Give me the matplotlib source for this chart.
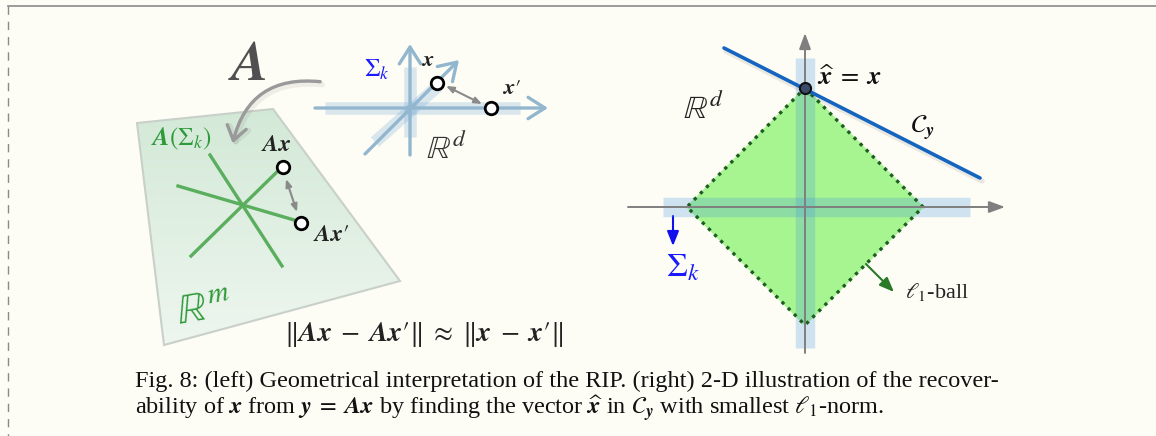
import matplotlib.pyplot as plt
from matplotlib.patches import Polygon, FancyArrowPatch
from matplotlib.colors import LinearSegmentedColormap
import numpy as np

plt.rcParams['font.family'] = ['Liberation Serif', 'DejaVu Serif']
plt.rcParams['mathtext.fontset'] = 'stix'

# Figure in pixel coordinates (y grows downward)
W, H = 1156, 436
bg = '#fdfdf6'

# ---- left diagram: plane R^m ----
plane_x = [137, 273, 400, 164]
plane_y = [123, 109, 281, 345]
# three subspace lines in A(Sigma_k)
lines_m = [((210, 155), (282, 266)),
           ((178, 186), (301, 222)),
           ((191, 256), (283, 166))]
pts_m = [(283, 167), (301, 223)]          # Ax, Ax'

# ---- left diagram: R^d axes ----
axes_d = [((315, 108), (548, 108)),
          ((410, 155), (410, 44)),
          ((365, 154), (459, 60))]
bands_d = [((325, 108), (520, 108)),
           ((410, 67), (410, 137)),
           ((375, 142), (438, 86))]
pts_d = [(437, 83), (491, 108)]           # x, x'

# ---- right diagram ----
origin_r = (805, 207)
ball_x = [805, 923, 805, 687, 805]
ball_y = [88, 207, 325, 207, 88]
haxis_r = (628, 1005)
vaxis_r = (353, 33)
hband_r = (663, 970)
vband_r = (58, 348)
cy_line_x = [724, 980]
cy_line_y = [48, 178]
xhat = (805, 88)

P = '\u2032'  # prime
caption1 = 'Fig. 8: (left) Geometrical interpretation of the RIP. (right) 2-D illustration of the recover-'
caption2 = (r'ability of $\mathbfit{x}$ from $\mathbfit{y}\;=\;\mathbfit{A}\mathbfit{x}$ by finding the vector '
            r'$\widehat{\mathbfit{x}}$ in $\mathcal{C}_{\mathbfit{y}}$ with smallest $\ell_1$-norm.')

fig = plt.figure(figsize=(W / 100, H / 100), dpi=100)
fig.patch.set_facecolor(bg)
ax = fig.add_axes([0, 0, 1, 1])
ax.axis('off')

# frame: top line + dashed left line
ax.plot([8, W], [6, 6], color='#8a8a8a', lw=1.2)
ax.plot([8, 8], [6, H], color='#8a8a8a', lw=1.0, ls=(0, (6, 5)))

# plane with gradient
poly = Polygon(np.column_stack([plane_x, plane_y]), closed=True,
               fc='none', ec='#c9cfc9', lw=1.5, zorder=2)
ax.add_patch(poly)
cmap = LinearSegmentedColormap.from_list('pl', ['#d3e9d7', '#eef6ef'])
grad = np.linspace(0, 1, 200).reshape(-1, 1)
im = ax.imshow(grad, cmap=cmap, aspect='auto', origin='upper',
               extent=[min(plane_x), max(plane_x), max(plane_y), min(plane_y)], zorder=1)
im.set_clip_path(poly)
ax.set_xlim(0, W)
ax.set_ylim(H, 0)

for (p, q) in lines_m:
    ax.plot([p[0], q[0]], [p[1], q[1]], color='#5aae5e', lw=2.4, zorder=3)

ax.annotate('', xy=(297, 212), xytext=(286, 179),
            arrowprops=dict(arrowstyle='<|-|>,head_length=0.45,head_width=0.18',
                            color='#8a8a8a', lw=1.5, shrinkA=0, shrinkB=0), zorder=4)
for p in pts_m:
    ax.plot(p[0], p[1], 'o', ms=9, mfc='white', mec='black', mew=2, zorder=5)

# curved arrow A, with soft shadow
for off, col, a, lw in [((2, 3), '#000000', 0.06, 4), ((0, 0), '#9a9a9a', 1.0, 2.4)]:
    arr = FancyArrowPatch((323 + off[0], 82 + off[1]), (232 + off[0], 146 + off[1]),
                          connectionstyle='arc3,rad=0.45',
                          arrowstyle='->,head_length=0.5,head_width=0.35',
                          mutation_scale=20, color=col, alpha=a, lw=lw, zorder=3)
    ax.add_patch(arr)

# R^d axes (top)
for (p, q) in bands_d:
    ax.plot([p[0], q[0]], [p[1], q[1]], color='#4d8fcc', alpha=0.2, lw=9,
            solid_capstyle='butt', zorder=2)
for (p, q) in axes_d:
    ax.add_patch(FancyArrowPatch(p, q, arrowstyle='->,head_length=0.55,head_width=0.35',
                                 mutation_scale=22, color='#93b6cf', lw=2.4,
                                 shrinkA=0, shrinkB=0, zorder=3))
ax.annotate('', xy=(482, 104), xytext=(446, 86),
            arrowprops=dict(arrowstyle='<|-|>,head_length=0.45,head_width=0.18',
                            color='#8a8a8a', lw=1.5, shrinkA=0, shrinkB=0), zorder=4)
for p in pts_d:
    ax.plot(p[0], p[1], 'o', ms=9, mfc='white', mec='black', mew=2, zorder=5)

# left labels
ax.text(247, 66, r'$\mathbfit{A}$', fontsize=40, color='#505050', ha='center', va='center')
ax.text(181, 139, r'$\mathbfit{A}(\Sigma_k)$', fontsize=18, color='#2f9a3a', ha='center', va='center')
ax.text(276, 145, r'$\mathbfit{Ax}$', fontsize=17, color='#222222', ha='center', va='center')
ax.text(331, 235, r'$\mathbfit{Ax}' + P + '$', fontsize=17, color='#222222', ha='center', va='center')
ax.text(204, 310, r'$\mathbb{R}^m$', fontsize=30, color='#2f9a3a', ha='center', va='center',
        rotation=10)
ax.text(424, 334, r'$\|\mathbfit{Ax}\;-\;\mathbfit{Ax}' + P + r'\|\;\approx\;\|\mathbfit{x}\;-\;\mathbfit{x}' + P + r'\|$',
        fontsize=20, color='#222222', ha='center', va='center')
ax.text(377, 70, r'$\Sigma_k$', fontsize=18, color='#1a1aff', ha='center', va='center')
ax.text(428, 62, r'$\mathbfit{x}$', fontsize=16, color='#222222', ha='center', va='center')
ax.text(511, 89, r'$\mathbfit{x}' + P + '$', fontsize=16, color='#222222', ha='center', va='center')
ax.text(446, 150, r'$\mathbb{R}^d$', fontsize=24, color='#333333', ha='center', va='center')

# ---- right diagram ----
ax.fill(ball_x, ball_y, color='#a6f590', zorder=1)
ax.plot([origin_r[0], origin_r[0]], vband_r, color='#4494df', alpha=0.25, lw=14,
        solid_capstyle='butt', zorder=2)
ax.plot(hband_r, [origin_r[1], origin_r[1]], color='#4494df', alpha=0.25, lw=14,
        solid_capstyle='butt', zorder=2)
ax.plot(ball_x, ball_y, color='#1d5e20', lw=2.4, ls=(0, (1, 1.6)), zorder=3)
ax.add_patch(FancyArrowPatch((haxis_r[0], origin_r[1]), (haxis_r[1], origin_r[1]),
                             arrowstyle='-|>,head_length=0.6,head_width=0.22', mutation_scale=16,
                             color='#7f7f7f', lw=1.4, shrinkA=0, shrinkB=0, zorder=4))
ax.add_patch(FancyArrowPatch((origin_r[0], vaxis_r[0]), (origin_r[0], vaxis_r[1]),
                             arrowstyle='-|>,head_length=0.6,head_width=0.22', mutation_scale=16,
                             color='#7f7f7f', lw=1.4, shrinkA=0, shrinkB=0, zorder=4))
# C_y line with shadow
ax.plot(np.array(cy_line_x) + 2, np.array(cy_line_y) + 3, color='black', alpha=0.08, lw=4,
        solid_capstyle='round', zorder=4)
ax.plot(cy_line_x, cy_line_y, color='#1565c0', lw=2.6, solid_capstyle='round', zorder=5)
ax.plot(xhat[0], xhat[1], 'o', ms=8, mfc='#3b4b6b', mec='#111111', mew=1.5, zorder=6)

ax.add_patch(FancyArrowPatch((673, 216), (673, 246), arrowstyle='-|>,head_length=0.55,head_width=0.22',
                             mutation_scale=16, color='#1010ee', lw=1.5, shrinkA=0, shrinkB=0))
ax.add_patch(FancyArrowPatch((866, 264), (894, 292), arrowstyle='-|>,head_length=0.55,head_width=0.22',
                             mutation_scale=16, color='#2a7a2a', lw=1.5, shrinkA=0, shrinkB=0))

ax.text(817, 78, r'$\widehat{\mathbfit{x}}\;=\;\mathbfit{x}$', fontsize=19, color='#111111',
        ha='left', va='center')
ax.text(703, 110, r'$\mathbb{R}^d$', fontsize=24, color='#222222', ha='center', va='center')
ax.text(922, 128, r'$\mathcal{C}_{\mathbfit{y}}$', fontsize=19, color='#111111', ha='center', va='center')
ax.text(683, 268, r'$\Sigma_k$', fontsize=24, color='#1a1aff', ha='center', va='center')
ax.text(905, 292, r'$\ell_1$-ball', fontsize=16, color='#222222', ha='left', va='center')

# caption
ax.text(135, 381, caption1, fontsize=17.5, color='#111111', ha='left', va='center')
ax.text(135, 409, caption2, fontsize=17.5, color='#111111', ha='left', va='center')

fig.savefig('out.png', dpi=100, facecolor=bg)
